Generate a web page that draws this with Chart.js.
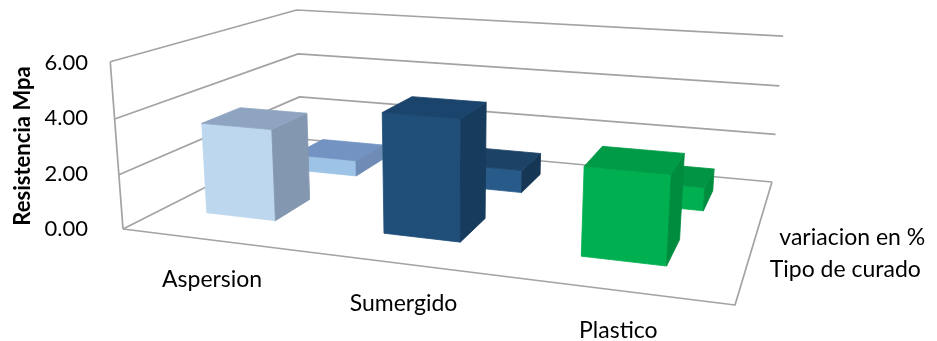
<!DOCTYPE html>
<html>
<head>
<meta charset="utf-8">
<script src="https://cdn.jsdelivr.net/npm/chart.js@4/dist/chart.umd.min.js"></script>
<style>
  html, body { margin: 0; padding: 0; background: #ffffff; }
  #wrap { width: 937px; height: 341px; }
</style>
</head>
<body>
<div id="wrap"><canvas id="c" width="937" height="341"></canvas></div>
<script>
// Curing type categories and the two depth rows of the 3-D column chart
const categories = ['Aspersion', 'Sumergido', 'Plastico'];
const seriesNames = ['Tipo de curado', 'variacion en %'];
const tipoDeCurado = [3.4, 4.35, 3.1];
const variacionPct = [0.65, 0.9, 0.9];
const yTickValues = [0, 2, 4, 6];

// Face colours per category: [front, side, top], one set per depth row
const palette = [
  [ ['#bdd7ee', '#8497b0', '#8fa4c0'], ['#1f4e79', '#173b5d', '#1b446c'], ['#00b050', '#008c3f', '#009b47'] ],
  [ ['#9dc3e6', '#6e8cb6', '#7393c2'], ['#285a8a', '#163656', '#1c4266'], ['#00b050', '#008c3f', '#009444'] ]
];

const FONT = 'Lato, "Liberation Sans", sans-serif';
const GRID = '#a3a3a3';

// Pixel corners of the floor and walls of the 3-D box (u across, w into depth, h up)
const frame = {
  floor: [ [123, 229], [735, 305], [772, 182], [301, 139] ], // (0,0) (1,0) (1,1) (0,1)
  tops:  [ [0, 0, 110, 63], [0, 1, 297, 10], [1, 1, 783, 35] ]
};
// depth placement of the two rows, their sideways nudge, and their axis labels
const rowDepth = [0.29, 0.75];
const rowShift = [-0.016, 0];
const rowLabelDepth = [0.23, 0.47];

function solveLinear(A, b) {
  const n = b.length;
  const M = A.map((r, i) => r.concat([b[i]]));
  for (let c = 0; c < n; c++) {
    let p = c;
    for (let r = c + 1; r < n; r++) if (Math.abs(M[r][c]) > Math.abs(M[p][c])) p = r;
    [M[c], M[p]] = [M[p], M[c]];
    for (let r = 0; r < n; r++) {
      if (r === c) continue;
      const f = M[r][c] / M[c][c];
      for (let k = c; k <= n; k++) M[r][k] -= f * M[c][k];
    }
  }
  return M.map((r, i) => r[n] / r[i]);
}

// Build a 3x4 projective camera from the frame corners
function buildCamera() {
  const uv = [[0, 0], [1, 0], [1, 1], [0, 1]];
  const A = [], b = [];
  uv.forEach(([u, w], i) => {
    const [x, y] = frame.floor[i];
    A.push([u, w, 1, 0, 0, 0, -x * u, -x * w]); b.push(x);
    A.push([0, 0, 0, u, w, 1, -y * u, -y * w]); b.push(y);
  });
  const h = solveLinear(A, b);
  const p1 = [h[0], h[3], h[6]], p2 = [h[1], h[4], h[7]], p4 = [h[2], h[5], 1];
  // least squares for the vertical column
  const N = [[0, 0, 0], [0, 0, 0], [0, 0, 0]], r = [0, 0, 0];
  frame.tops.forEach(([u, w, x, y]) => {
    const q = [0, 1, 2].map(k => u * p1[k] + w * p2[k] + p4[k]);
    const rows = [[[1, 0, -x], x * q[2] - q[0]], [[0, 1, -y], y * q[2] - q[1]]];
    rows.forEach(([a, v]) => {
      for (let i = 0; i < 3; i++) {
        r[i] += a[i] * v;
        for (let j = 0; j < 3; j++) N[i][j] += a[i] * a[j];
      }
    });
  });
  const p3 = solveLinear(N, r);
  return (u, w, hh) => {
    const X = [0, 1, 2].map(k => u * p1[k] + w * p2[k] + hh * p3[k] + p4[k]);
    return [X[0] / X[2], X[1] / X[2]];
  };
}
const project = buildCamera();

function poly(ctx, pts) {
  ctx.beginPath();
  pts.forEach((p, i) => i ? ctx.lineTo(p[0], p[1]) : ctx.moveTo(p[0], p[1]));
  ctx.closePath();
}
function area(pts) {
  let s = 0;
  for (let i = 0; i < pts.length; i++) {
    const a = pts[i], b = pts[(i + 1) % pts.length];
    s += a[0] * b[1] - b[0] * a[1];
  }
  return s;
}

function drawBox(ctx, u0, u1, w0, w1, h, cols) {
  const c = (i, j, k) => project(i ? u1 : u0, j ? w1 : w0, k ? h : 0);
  const faces = [
    [[c(0,0,0), c(1,0,0), c(1,0,1), c(0,0,1)], cols[0]],          // front
    [[c(1,1,0), c(0,1,0), c(0,1,1), c(1,1,1)], cols[0]],          // back
    [[c(1,0,0), c(1,1,0), c(1,1,1), c(1,0,1)], cols[1]],          // right
    [[c(0,1,0), c(0,0,0), c(0,0,1), c(0,1,1)], cols[1]],          // left
    [[c(0,0,1), c(1,0,1), c(1,1,1), c(0,1,1)], cols[2]]           // top
  ];
  faces.forEach(([pts, col]) => {
    if (area(pts) < 0) {
      poly(ctx, pts);
      ctx.fillStyle = col;
      ctx.fill();
      ctx.strokeStyle = col;
      ctx.lineWidth = 0.8;
      ctx.stroke();
    }
  });
}

const scene3d = {
  id: 'scene3d',
  beforeDatasetsDraw(chart) {
    const ctx = chart.ctx;
    const xs = chart.scales.x, ys = chart.scales.y;
    const y0 = ys.getPixelForValue(ys.min), y1 = ys.getPixelForValue(ys.max);
    const hOf = v => (y0 - ys.getPixelForValue(v)) / (y0 - y1);
    const uOf = px => (px - xs.left) / xs.width;

    ctx.save();
    ctx.lineWidth = 1.7;
    ctx.strokeStyle = GRID;
    ctx.lineJoin = 'round';
    // wall gridlines at each value tick
    ys.ticks.forEach(t => {
      const h = hOf(t.value);
      const a = project(0, 0, h), b = project(0, 1, h), c = project(1, 1, h);
      ctx.beginPath(); ctx.moveTo(a[0], a[1]); ctx.lineTo(b[0], b[1]); ctx.lineTo(c[0], c[1]); ctx.stroke();
    });
    // front vertical edge of the side wall
    let a = project(0, 0, 0), b = project(0, 0, 1);
    ctx.beginPath(); ctx.moveTo(a[0], a[1]); ctx.lineTo(b[0], b[1]); ctx.stroke();
    // floor outline
    a = project(0, 0, 0); b = project(1, 0, 0); const c = project(1, 1, 0);
    ctx.beginPath(); ctx.moveTo(a[0], a[1]); ctx.lineTo(b[0], b[1]); ctx.lineTo(c[0], c[1]); ctx.stroke();

    // columns, back row first
    const catW = 1 / chart.data.labels.length;
    const halfW = catW * 0.4 / 2;
    const rows = chart.data.datasets.length;
    const halfD = 0.1;
    for (let s = rows - 1; s >= 0; s--) {
      const wc = rowDepth[s];
      chart.data.datasets[s].data.forEach((v, i) => {
        const uc = uOf(xs.getPixelForValue(i)) + rowShift[s];
        drawBox(ctx, uc - halfW, uc + halfW, wc - halfD, wc + halfD, hOf(v), palette[s][i]);
      });
    }

    // category labels along the front edge
    ctx.fillStyle = '#000';
    ctx.font = '23px ' + FONT;
    ctx.textAlign = 'center';
    ctx.textBaseline = 'middle';
    chart.data.labels.forEach((lab, i) => {
      const p = project(uOf(xs.getPixelForValue(i)), 0, 0);
      ctx.fillText(lab, p[0] + 1, p[1] + 40);
    });
    // series names along the right depth edge
    ctx.textAlign = 'left';
    chart.data.datasets.forEach((ds, s) => {
      const p = project(1, rowLabelDepth[s], 0);
      ctx.fillText(ds.label, p[0] + 24, p[1]);
    });
    ctx.restore();
    return false;
  }
};

new Chart(document.getElementById('c'), {
  type: 'bar',
  data: {
    labels: categories,
    datasets: [
      { label: seriesNames[0], data: tipoDeCurado },
      { label: seriesNames[1], data: variacionPct }
    ]
  },
  options: {
    responsive: false,
    devicePixelRatio: 1,
    animation: false,
    layout: { padding: { left: 6, top: 63, right: 0, bottom: 112 } },
    plugins: { legend: { display: false }, tooltip: { enabled: false }, title: { display: false } },
    scales: {
      x: { display: false, offset: true },
      y: {
        min: 0, max: 6,
        afterBuildTicks: s => { s.ticks = yTickValues.map(v => ({ value: v })); },
        afterFit: s => { s.width = 106; },
        grid: { display: false, drawTicks: false },
        border: { display: false },
        ticks: {
          color: '#000', padding: 24,
          font: { family: FONT, size: 22 },
          callback: v => Number(v).toFixed(2)
        },
        title: {
          display: true, text: 'Resistencia Mpa', color: '#000',
          font: { family: FONT, size: 22, weight: 'bold' },
          padding: { top: 4, bottom: 0 }
        }
      }
    }
  },
  plugins: [scene3d]
});
</script>
</body>
</html>
